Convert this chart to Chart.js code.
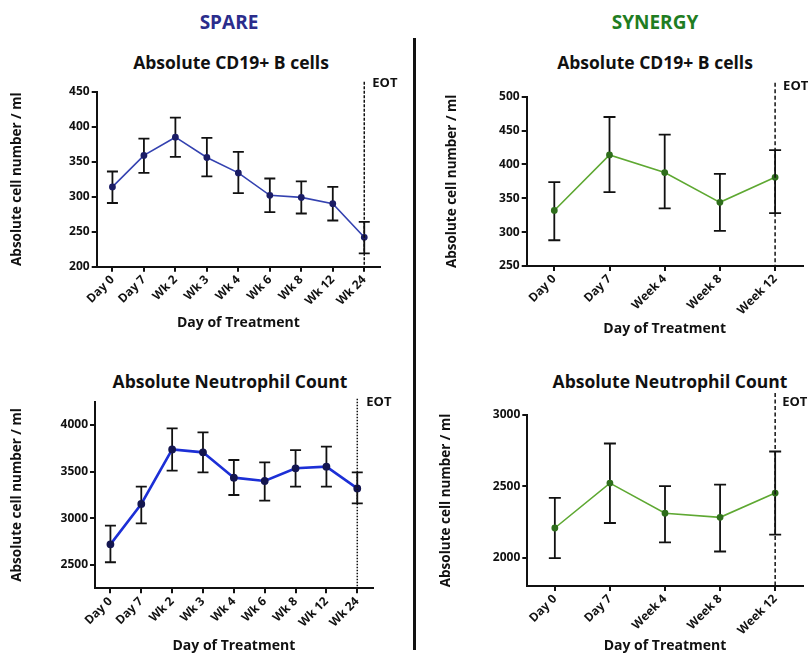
<!DOCTYPE html>
<html>
<head>
<meta charset="utf-8">
<script src="https://cdn.jsdelivr.net/npm/chart.js@4.4.0/dist/chart.umd.min.js"></script>
<style>
  body { margin: 0; background: #fff; width: 811px; height: 654px; position: relative; overflow: hidden; font-family: "Open Sans", sans-serif; }
  .box { position: absolute; }
  .head { position: absolute; font-weight: bold; font-size: 19px; transform: translate(-50%, -50%); white-space: nowrap; }
  .title { position: absolute; font-weight: bold; font-size: 17.5px; color: #111; transform: translate(-50%, -50%); white-space: nowrap; }
  #divider { position: absolute; left: 413px; top: 38px; width: 3px; height: 612px; background: #111; }
</style>
</head>
<body>
<div class="head" style="left:229px; top:22px; color:#2b2d8c;">SPARE</div>
<div class="head" style="left:655px; top:22px; color:#1f7d22;">SYNERGY</div>
<div id="divider"></div>

<div class="title" style="left:231px; top:62px;">Absolute CD19+ B cells</div>
<div class="title" style="left:655px; top:62px;">Absolute CD19+ B cells</div>
<div class="title" style="left:230px; top:381px;">Absolute Neutrophil Count</div>
<div class="title" style="left:670px; top:381px;">Absolute Neutrophil Count</div>

<div class="box" style="left:0; top:40px; width:410px; height:300px;"><canvas id="c1"></canvas></div>
<div class="box" style="left:420px; top:40px; width:391px; height:300px;"><canvas id="c2"></canvas></div>
<div class="box" style="left:0; top:360px; width:410px; height:294px;"><canvas id="c3"></canvas></div>
<div class="box" style="left:420px; top:360px; width:391px; height:294px;"><canvas id="c4"></canvas></div>

<script>
// categories
const spareLabels = ['Day 0', 'Day 7', 'Wk 2', 'Wk 3', 'Wk 4', 'Wk 6', 'Wk 8', 'Wk 12', 'Wk 24'];
const synergyLabels = ['Day 0', 'Day 7', 'Week 4', 'Week 8', 'Week 12'];

// SPARE - CD19+ B cells (mean, lower and upper error bar)
const spareCd19 = [314, 359, 385, 356, 334, 302, 299, 290, 242];
const spareCd19Low = [291, 334, 357, 329, 305, 278, 276, 266, 219];
const spareCd19High = [336, 383, 413, 384, 364, 326, 322, 314, 264];
const spareCd19Ticks = [200, 250, 300, 350, 400, 450];

// SYNERGY - CD19+ B cells
const synCd19 = [332, 414, 388, 344, 381];
const synCd19Low = [288, 359, 335, 302, 328];
const synCd19High = [374, 470, 444, 386, 421];
const synCd19Ticks = [250, 300, 350, 400, 450, 500];

// SPARE - neutrophils
const spareAnc = [2721, 3154, 3739, 3707, 3436, 3400, 3536, 3554, 3321];
const spareAncLow = [2529, 2946, 3511, 3493, 3250, 3189, 3339, 3339, 3161];
const spareAncHigh = [2921, 3339, 3964, 3921, 3625, 3600, 3732, 3768, 3493];
const spareAncTicks = [2500, 3000, 3500, 4000];

// SYNERGY - neutrophils
const synAnc = [2207, 2522, 2311, 2282, 2452];
const synAncLow = [1995, 2242, 2106, 2042, 2160];
const synAncHigh = [2419, 2800, 2501, 2511, 2744];
const synAncTicks = [2000, 2500, 3000];

const ink = '#111';
const fontName = 'Open Sans';

// error bars drawn under the line
const errorBars = {
    id: 'errorBars',
    beforeDatasetsDraw(chart) {
        const ctx = chart.ctx;
        const xs = chart.scales.x, ys = chart.scales.y;
        const ds = chart.data.datasets[0];
        ctx.save();
        ctx.strokeStyle = ink;
        ctx.lineWidth = 1.8;
        ds.errLow.forEach((lo, i) => {
            const x = xs.getPixelForValue(i);
            const y1 = ys.getPixelForValue(lo);
            const y2 = ys.getPixelForValue(ds.errHigh[i]);
            const cap = ds.capWidth / 2;
            ctx.beginPath();
            ctx.moveTo(x, y1); ctx.lineTo(x, y2);
            ctx.moveTo(x - cap, y1); ctx.lineTo(x + cap, y1);
            ctx.moveTo(x - cap, y2); ctx.lineTo(x + cap, y2);
            ctx.stroke();
        });
        ctx.restore();
    }
};

// end of treatment marker
const eotLine = {
    id: 'eot',
    afterDraw(chart, args, opts) {
        const ctx = chart.ctx;
        const x = chart.scales.x.getPixelForValue(opts.index);
        const top = chart.chartArea.top - opts.extend;
        ctx.save();
        ctx.strokeStyle = ink;
        ctx.lineWidth = 1.5;
        ctx.setLineDash(opts.dash);
        ctx.beginPath();
        ctx.moveTo(x, top);
        ctx.lineTo(x, chart.chartArea.bottom);
        ctx.stroke();
        ctx.setLineDash([]);
        ctx.fillStyle = ink;
        ctx.font = 'bold 13px "' + fontName + '"';
        ctx.textBaseline = 'middle';
        ctx.fillText('EOT', x + opts.labelDx, top + opts.labelDy);
        ctx.restore();
    }
};

function makeChart(id, o) {
    const tickFont = { family: fontName, size: 12, weight: 'bold' };
    return new Chart(document.getElementById(id), {
        type: 'line',
        data: {
            labels: o.labels,
            datasets: [{
                data: o.values,
                errLow: o.low,
                errHigh: o.high,
                capWidth: o.cap,
                borderColor: o.lineColor,
                borderWidth: o.lineWidth,
                pointRadius: 2.6,
                pointBackgroundColor: o.pointColor,
                pointBorderColor: o.pointColor,
                tension: 0
            }]
        },
        options: {
            responsive: true,
            maintainAspectRatio: false,
            animation: false,
            layout: { padding: o.padding },
            plugins: {
                legend: { display: false },
                tooltip: { enabled: false },
                eot: o.eot
            },
            scales: {
                x: {
                    offset: true,
                    grid: { display: true, drawOnChartArea: false, drawTicks: true, tickLength: 5, offset: false, color: ink, lineWidth: 2 },
                    border: { display: true, color: ink, width: 2 },
                    ticks: { color: ink, font: tickFont, minRotation: 45, maxRotation: 45, autoSkip: false, padding: 1 },
                    title: { display: true, text: 'Day of Treatment', color: ink, font: { family: fontName, size: 14, weight: 'bold' }, padding: { top: 0, bottom: o.xTitlePad } },
                    afterFit: s => { s.height = o.xHeight; }
                },
                y: {
                    min: o.min,
                    max: o.max,
                    afterBuildTicks: s => { s.ticks = o.ticks.map(v => ({ value: v })); },
                    grid: { display: true, drawOnChartArea: false, drawTicks: true, tickLength: 5, color: ink, lineWidth: 2 },
                    border: { display: true, color: ink, width: 2 },
                    ticks: { color: ink, font: tickFont, padding: 2, callback: v => String(v) },
                    title: { display: true, text: 'Absolute cell number / ml', color: ink, font: { family: fontName, size: 13.5, weight: 'bold' }, padding: { top: o.yTitlePad, bottom: 0 } },
                    afterFit: s => { s.width = o.yWidth; }
                }
            }
        },
        plugins: [errorBars, eotLine]
    });
}

makeChart('c1', {
    labels: spareLabels, values: spareCd19, low: spareCd19Low, high: spareCd19High,
    ticks: spareCd19Ticks, min: 200, max: 450,
    lineColor: '#3442b0', lineWidth: 1.6, pointColor: '#1b1d66', cap: 11,
    padding: { left: 4, right: 30, top: 51.7, bottom: 4 },
    yWidth: 92.7, yTitlePad: 5, xHeight: 69.3, xTitlePad: 5,
    eot: { index: 8, extend: 10, dash: [3, 1.5], labelDx: 8, labelDy: 2 }
});

makeChart('c2', {
    labels: synergyLabels, values: synCd19, low: synCd19Low, high: synCd19High,
    ticks: synCd19Ticks, min: 250, max: 500,
    lineColor: '#5ea832', lineWidth: 1.6, pointColor: '#2f6e1c', cap: 12,
    padding: { left: 20, right: 8.3, top: 56.7, bottom: 2 },
    yWidth: 86.7, yTitlePad: 4, xHeight: 72, xTitlePad: 1,
    eot: { index: 4, extend: 14, dash: [4, 2.5], labelDx: 8, labelDy: 4 }
});

makeChart('c3', {
    labels: spareLabels, values: spareAnc, low: spareAncLow, high: spareAncHigh,
    ticks: spareAncTicks, min: 2250, max: 4250,
    lineColor: '#1c2fd6', lineWidth: 2.6, pointColor: '#141650', cap: 11,
    padding: { left: 4, right: 37.3, top: 41.7, bottom: 0 },
    yWidth: 91, yTitlePad: 5, xHeight: 65.7, xTitlePad: 0,
    eot: { index: 8, extend: 3, dash: [1.5, 1.5], labelDx: 9, labelDy: 4 }
});

makeChart('c4', {
    labels: synergyLabels, values: synAnc, low: synAncLow, high: synAncHigh,
    ticks: synAncTicks, min: 1800, max: 3000,
    lineColor: '#5ea832', lineWidth: 1.6, pointColor: '#2f6e1c', cap: 12,
    padding: { left: 14, right: 8.3, top: 55, bottom: 0 },
    yWidth: 93.3, yTitlePad: 4, xHeight: 68, xTitlePad: 0,
    eot: { index: 4, extend: 22, dash: [4, 2.5], labelDx: 7, labelDy: 9 }
});
</script>
</body>
</html>
